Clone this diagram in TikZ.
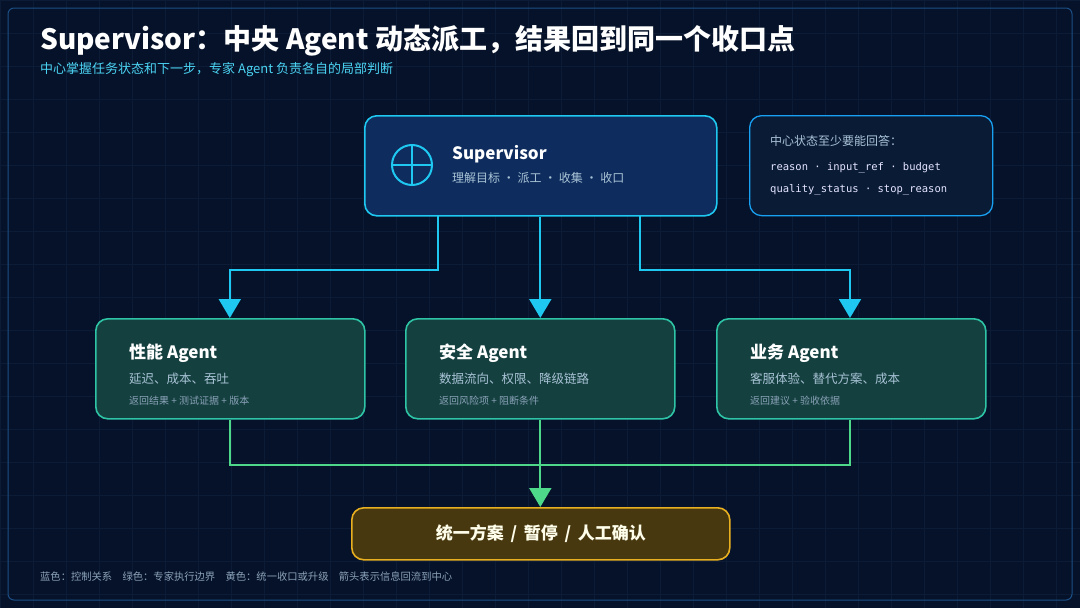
\documentclass[tikz,border=0pt]{standalone}
\usepackage{fontspec}
\setmainfont{Noto Sans CJK SC}
\newfontfamily\codefont{DejaVu Sans Mono}
\usetikzlibrary{arrows.meta,positioning,calc}
\definecolor{bgc}{HTML}{061229}
\definecolor{gridc}{HTML}{0C1C36}
\definecolor{framec}{HTML}{1C4E86}
\definecolor{cyanc}{HTML}{1EC8F0}
\definecolor{supfill}{HTML}{0E2D5E}
\definecolor{infofill}{HTML}{0A1B36}
\definecolor{agfill}{HTML}{14403F}
\definecolor{agline}{HTML}{2EC4A6}
\definecolor{greenc}{HTML}{4ED98A}
\definecolor{goldfill}{HTML}{48380F}
\definecolor{goldc}{HTML}{E8B020}
\definecolor{subc}{HTML}{A9C3D6}
\definecolor{mutec}{HTML}{8AA2B8}
\tikzset{
    box/.style={rounded corners=12pt, line width=1.6pt, anchor=north west, inner sep=0pt},
    agent/.style={box, draw=agline, fill=agfill, minimum width=269pt, minimum height=100pt},
    tip/.style={-{Triangle[length=19pt,width=22pt]}},
    ctrl/.style={cyanc, line width=2pt, tip},
    back/.style={greenc, line width=2pt},
    ttl/.style={anchor=base west, text=white, font=\bfseries\fontsize{17}{20}\selectfont},
    ln/.style={anchor=base west, text=subc, font=\fontsize{12.5}{15}\selectfont},
    sm/.style={anchor=base west, text=mutec, font=\fontsize{10}{12}\selectfont}
}
\begin{document}
\begin{tikzpicture}[x=1pt,y=-1pt]
    \fill[bgc] (0,0) rectangle (1080,608);
    \useasboundingbox (0,0) rectangle (1080,608);
    \foreach \i in {0,33,...,1080} \draw[gridc, line width=0.5pt] (\i,0) -- (\i,608);
    \foreach \j in {0,33,...,608} \draw[gridc, line width=0.5pt] (0,\j) -- (1080,\j);
    \draw[framec, line width=1pt, rounded corners=6pt] (8,8) rectangle (1072,600);

    % title
    \node[anchor=base west, text=white, font=\bfseries\fontsize{28}{32}\selectfont, inner sep=0pt] (title) at (40,49) {Supervisor：中央 Agent 动态派工，结果回到同一个收口点};
    \node[anchor=base west, text=cyanc!80!white, font=\fontsize{13}{15}\selectfont, inner sep=0pt] (subtitle) at (40,73) {中心掌握任务状态和下一步，专家 Agent 负责各自的局部判断};

    % supervisor
    \node[box, draw=cyanc, fill=supfill, minimum width=352pt, minimum height=100pt] (sup) at (364,115) {};
    \draw[cyanc, line width=2pt] (412,165) circle (20pt);
    \draw[cyanc, line width=2pt] (392,165) -- (432,165) (412,145) -- (412,185);
    \node[ttl, inner sep=0pt] (suptitle) at (452,159) {Supervisor};
    \node[ln, font=\fontsize{12}{14}\selectfont, inner sep=0pt] (supline) at (452,182) {理解目标 · 派工 · 收集 · 收口};

    % info box
    \node[box, draw=cyanc!80!blue, fill=infofill, line width=1.3pt, minimum width=243pt, minimum height=100pt] (info) at (749,115) {};
    \node[anchor=base west, text=subc, font=\fontsize{12}{14}\selectfont, inner sep=0pt] (infohead) at (770,145) {中心状态至少要能回答：};
    \node[anchor=base west, text=white!90!blue, font=\codefont\fontsize{10.5}{12}\selectfont, inner sep=0pt] (infoa) at (770,170) {reason · input\_ref · budget};
    \node[anchor=base west, text=white!90!blue, font=\codefont\fontsize{10.5}{12}\selectfont, inner sep=0pt] (infob) at (770,192) {quality\_status · stop\_reason};

    % agents
    \node[agent] (perf) at (95,318) {};
    \node[agent] (sec) at (405,318) {};
    \node[agent] (biz) at (716,318) {};
    \node[ttl, inner sep=0pt] at (129,358) {性能 Agent};
    \node[ln, inner sep=0pt] at (129,383) {延迟、成本、吞吐};
    \node[sm, inner sep=0pt] at (129,404) {返回结果 + 测试证据 + 版本};
    \node[ttl, inner sep=0pt] at (439,358) {安全 Agent};
    \node[ln, inner sep=0pt] at (439,383) {数据流向、权限、降级链路};
    \node[sm, inner sep=0pt] at (439,404) {返回风险项 + 阻断条件};
    \node[ttl, inner sep=0pt] at (750,358) {业务 Agent};
    \node[ln, inner sep=0pt] at (750,383) {客服体验、替代方案、成本};
    \node[sm, inner sep=0pt] at (750,404) {返回建议 + 验收依据};

    % result
    \node[box, draw=goldc, fill=goldfill, minimum width=378pt, minimum height=52pt] (res) at (351,507) {};
    \node[text=white!92!yellow, font=\bfseries\fontsize{17}{20}\selectfont] at (res.center) {统一方案 \,/\, 暂停 \,/\, 人工确认};

    % control arrows
    \coordinate (s1) at (438,215);
    \coordinate (s3) at (640,215);
    \draw[ctrl] (s1) -- ++(0,55) -| ($(perf.north)+(-0.5,0)$);
    \draw[ctrl] (sup.south -| sec.north) -- (sec.north);
    \draw[ctrl] (s3) -- ++(0,55) -| (biz.north -| 850,0);

    % return lines
    \coordinate (m) at (540,465);
    \draw[back] ($(perf.south)+(-0.5,0)$) |- (m);
    \draw[back] (biz.south -| 850,0) |- (m);
    \draw[back, tip] (sec.south) -- (res.north -| sec.south);

    \node[anchor=base west, text=mutec, font=\fontsize{10.3}{12}\selectfont, inner sep=0pt] (legend) at (40,580) {蓝色：控制关系\quad 绿色：专家执行边界\quad 黄色：统一收口或升级\quad 箭头表示信息回流到中心};
\end{tikzpicture}
\end{document}
